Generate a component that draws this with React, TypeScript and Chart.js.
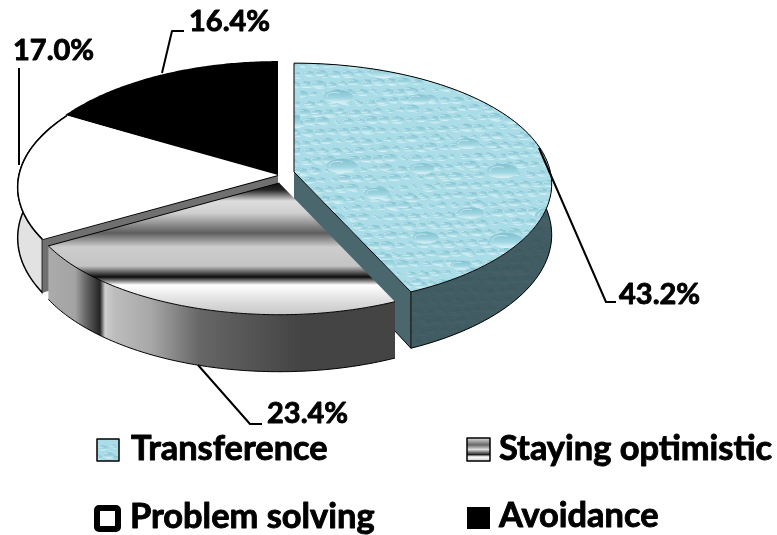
import React, { useEffect, useRef } from "react";
import { Chart, registerables } from "chart.js";

Chart.register(...registerables);

const categories = ["Transference", "Staying optimistic", "Problem solving", "Avoidance"];
const shares = [43.2, 23.4, 17.0, 16.4];
const flatColors = ["#b4e2ec", "#9a9a9a", "#ffffff", "#000000"];

const FONT = "Lato, Carlito, sans-serif";

// Where each wedge sits after being pulled out, and how strongly it is foreshortened.
const wedgeLayout = [
  { dx: 10, dy: -3, k: 0.99, ay: 0.467, p: 0.1 },
  { dx: -4.7, dy: 8, k: 0.98, ay: 0.467, p: 0.1 },
  { dx: -6, dy: 0, k: 1, ay: 0.467, p: 0.1 },
  { dx: -6, dy: 2, k: 1, ay: 0.486, p: 0.086 },
];

// Value label position (x, baseline) and its leader line, per wedge.
const labelLayout = [
  { x: 619, y: 304, line: [[539, 148], [606, 302], [616, 302]] },
  { x: 267, y: 423, line: [[198, 365], [250, 424], [262, 424]] },
  { x: 13, y: 60, line: [[19, 68], [19, 165]] },
  { x: 189, y: 31, line: [[162, 73], [172, 31], [184, 31]] },
];

// Legend swatch box and text position, per wedge.
const legendLayout = [
  { sx: 97, sy: 439, sw: 22, sh: 22, tx: 131, ty: 460 },
  { sx: 467, sy: 438, sw: 23, sh: 23, tx: 499, ty: 460 },
  { sx: 97, sy: 508, sw: 21, sh: 21, tx: 130, ty: 528 },
  { sx: 467, sy: 507, sw: 23, sh: 22, tx: 499, ty: 527 },
];

function depthAt(v: number) {
  return 50 - 7 * v;
}

// A sheet of flattened water drops used as the fill of the largest wedge.
function makeDropTexture(): HTMLCanvasElement {
  const c = document.createElement("canvas");
  c.width = 300;
  c.height = 260;
  const g = c.getContext("2d")!;
  g.fillStyle = "#aadde7";
  g.fillRect(0, 0, c.width, c.height);
  const drop = (x: number, y: number, r: number) => {
    const ry = r * 0.45;
    const body = g.createLinearGradient(x, y - ry, x, y + ry);
    body.addColorStop(0, "#82c0cf");
    body.addColorStop(0.6, "#a0d6e2");
    body.addColorStop(1, "#dff5f8");
    g.fillStyle = body;
    g.beginPath();
    g.ellipse(x, y, r, ry, 0, 0, Math.PI * 2);
    g.fill();
    g.strokeStyle = "rgba(232,250,252,0.85)";
    g.lineWidth = 0.7;
    g.beginPath();
    g.ellipse(x - r * 0.25, y - ry * 0.1, r * 0.55, ry * 0.55, 0, Math.PI * 0.9, Math.PI * 1.7);
    g.stroke();
  };
  for (let i = 1; i <= 1500; i++) {
    const x = ((i * 0.618034) % 1) * c.width;
    const y = ((i * 0.754878) % 1) * c.height;
    const r = 2 + ((i * i * 0.0137) % 1) * 6;
    drop(x, y, r);
  }
  for (let i = 1; i <= 24; i++) {
    const x = ((i * 0.5698) % 1) * c.width;
    const y = ((i * 0.8191) % 1) * c.height;
    drop(x, y, 10 + ((i * 0.41) % 1) * 7);
  }
  return c;
}

const pie3d = {
  id: "pie3d",
  beforeDatasetDraw(chart: any) {
    const arcs = chart.getDatasetMeta(0).data;
    const ctx: CanvasRenderingContext2D = chart.ctx;
    const texture = ctx.createPattern(makeDropTexture(), "repeat")!;

    const geom = arcs.map((arc: any, i: number) => {
      const L = wedgeLayout[i];
      const R = arc.outerRadius * L.k;
      const cx = arc.x + L.dx;
      const cy = arc.y + L.dy;
      const a0 = arc.startAngle + Math.PI / 2;
      const a1 = arc.endAngle + Math.PI / 2;
      const pt = (t: number, z = 0): [number, number] => {
        const u = Math.sin(t);
        const v = Math.cos(t);
        const w = 1 + L.p * v;
        return [cx + (R * u) / w, cy - (R * L.ay * v) / w + z * depthAt(v)];
      };
      const rim = (z: number) => {
        const out: [number, number][] = [];
        const n = 90;
        for (let k = 0; k <= n; k++) out.push(pt(a0 + ((a1 - a0) * k) / n, z));
        return out;
      };
      return { cx, cy, a0, a1, pt, rim };
    });

    const trace = (pts: [number, number][]) => {
      ctx.beginPath();
      pts.forEach(([x, y], k) => (k ? ctx.lineTo(x, y) : ctx.moveTo(x, y)));
      ctx.closePath();
    };
    const top = (i: number) => {
      const g = geom[i];
      trace([[g.cx, g.cy], ...g.rim(0)]);
    };
    const side = (i: number) => {
      const g = geom[i];
      trace([...g.rim(0), ...g.rim(1).reverse()]);
    };
    const edge = (pts: [number, number][], width = 1) => {
      ctx.beginPath();
      pts.forEach(([x, y], k) => (k ? ctx.lineTo(x, y) : ctx.moveTo(x, y)));
      ctx.lineWidth = width;
      ctx.strokeStyle = "#000";
      ctx.stroke();
    };
    const cutFace = (i: number, t: number) => {
      const g = geom[i];
      trace([[g.cx, g.cy], g.pt(t), g.pt(t, 1), [g.cx, g.cy + depthAt(0)]]);
    };
    const heavyText = (s: string, x: number, y: number) => {
      ctx.fillStyle = "#000";
      ctx.strokeStyle = "#000";
      ctx.lineWidth = 0.9;
      ctx.fillText(s, x, y);
      ctx.strokeText(s, x, y);
    };

    ctx.save();
    ctx.lineJoin = "round";

    // Avoidance: only its upper face shows.
    top(3);
    ctx.fillStyle = flatColors[3];
    ctx.fill();

    // Problem solving: rim, the cut face behind the gap, then the upper face.
    side(2);
    ctx.fillStyle = "#e2e2e2";
    ctx.fill();
    ctx.lineWidth = 1.5;
    ctx.strokeStyle = "#000";
    ctx.stroke();
    cutFace(2, geom[2].a0);
    ctx.fillStyle = "#707070";
    ctx.fill();
    edge([[geom[2].cx, geom[2].cy], geom[2].pt(geom[2].a0)], 2);
    top(2);
    ctx.fillStyle = flatColors[2];
    ctx.fill();
    edge(geom[2].rim(0).slice(0, 91), 1.5);

    // Transference: cut face and textured rim in a dark tone.
    cutFace(0, geom[0].a1);
    ctx.fillStyle = "#4a676d";
    ctx.fill();
    side(0);
    ctx.fillStyle = texture;
    ctx.fill();
    ctx.fillStyle = "rgba(45,68,74,0.84)";
    ctx.fill();
    edge(geom[0].rim(1).slice(30), 1);
    edge([geom[0].pt(geom[0].a1), geom[0].pt(geom[0].a1, 1)], 1);
    edge([geom[0].pt(geom[0].a1, 1), [geom[0].cx, geom[0].cy + depthAt(0)]], 1);

    // Staying optimistic: banded chrome surfaces.
    side(1);
    const rimGrad = ctx.createLinearGradient(48, 0, 396, 0);
    const rimStops: [number, string][] = [
      [48, "#ababab"],
      [75, "#a4a4a4"],
      [86, "#666666"],
      [100, "#242424"],
      [105, "#cfcfcf"],
      [114, "#bdbdbd"],
      [150, "#a8a8a8"],
      [200, "#666666"],
      [300, "#444444"],
      [396, "#444444"],
    ];
    rimStops.forEach(([x, c]) => rimGrad.addColorStop((x - 48) / 348, c));
    ctx.fillStyle = rimGrad;
    ctx.fill();
    edge(geom[1].rim(1), 1);
    top(1);
    const topGrad = ctx.createLinearGradient(0, 178, 0, 314);
    const topStops: [number, string][] = [
      [178, "#000000"],
      [190, "#262626"],
      [201, "#dddddd"],
      [213, "#cfcfcf"],
      [233, "#5e5e5e"],
      [247, "#cdcdcd"],
      [266, "#c4c4c4"],
      [277, "#0c0c0c"],
      [285, "#ffffff"],
      [300, "#e0e0e0"],
      [314, "#c8c8c8"],
    ];
    topStops.forEach(([y, c]) => topGrad.addColorStop((y - 178) / 136, c));
    ctx.fillStyle = topGrad;
    ctx.fill();
    edge(geom[1].rim(0), 1);
    edge([geom[1].pt(geom[1].a1), [geom[1].cx, geom[1].cy]], 1);

    // Transference upper face goes last so it overlaps its neighbours cleanly.
    top(0);
    ctx.fillStyle = texture;
    ctx.fill();
    edge(geom[0].rim(0), 1);
    edge([[geom[0].cx, geom[0].cy], geom[0].pt(geom[0].a1)], 1);
    edge([[geom[0].cx, geom[0].cy], geom[0].pt(geom[0].a0)], 1);

    // Value labels with leader lines.
    ctx.font = `bold 29px ${FONT}`;
    ctx.textBaseline = "alphabetic";
    ctx.textAlign = "left";
    shares.forEach((s, i) => {
      const L = labelLayout[i];
      edge(L.line as [number, number][], 2);
      heavyText(`${s.toFixed(1)}%`, L.x, L.y);
    });

    // Legend in two columns.
    ctx.font = `bold 34.4px ${FONT}`;
    categories.forEach((name, i) => {
      const L = legendLayout[i];
      if (i === 0) {
        ctx.fillStyle = texture;
        ctx.fillRect(L.sx, L.sy, L.sw, L.sh);
        ctx.lineWidth = 1.5;
        ctx.strokeStyle = "#000";
        ctx.strokeRect(L.sx, L.sy, L.sw, L.sh);
      } else if (i === 1) {
        const g = ctx.createLinearGradient(0, L.sy, 0, L.sy + L.sh);
        g.addColorStop(0, "#ddd");
        g.addColorStop(0.3, "#666");
        g.addColorStop(0.5, "#ddd");
        g.addColorStop(0.72, "#222");
        g.addColorStop(0.82, "#fff");
        g.addColorStop(1, "#ccc");
        ctx.fillStyle = g;
        ctx.fillRect(L.sx, L.sy, L.sw, L.sh);
        ctx.lineWidth = 1.5;
        ctx.strokeStyle = "#000";
        ctx.strokeRect(L.sx, L.sy, L.sw, L.sh);
      } else if (i === 2) {
        ctx.fillStyle = "#fff";
        ctx.lineWidth = 6;
        ctx.strokeStyle = "#000";
        ctx.beginPath();
        ctx.roundRect(L.sx, L.sy, L.sw, L.sh, 2);
        ctx.fill();
        ctx.stroke();
      } else {
        ctx.fillStyle = flatColors[3];
        ctx.fillRect(L.sx, L.sy, L.sw, L.sh);
      }
      heavyText(name, L.tx, L.ty);
    });

    ctx.restore();
    return false;
  },
};

export default function App() {
  const ref = useRef<HTMLCanvasElement>(null);
  useEffect(() => {
    const chart = new Chart(ref.current!, {
      type: "pie",
      data: {
        labels: categories,
        datasets: [{ data: shares, backgroundColor: flatColors, borderWidth: 0 }],
      },
      options: {
        animation: false,
        responsive: false,
        radius: 259,
        layout: { padding: { left: 0, top: 0, right: 209, bottom: 185 } },
        plugins: { legend: { display: false }, tooltip: { enabled: false } },
      },
      plugins: [pie3d],
    } as any);
    return () => chart.destroy();
  }, []);
  return (
    <div style={{ position: "fixed", left: 0, top: 0, width: 777, height: 535, background: "#fff" }}>
      <canvas ref={ref} width={777} height={535} style={{ display: "block" }} />
    </div>
  );
}
